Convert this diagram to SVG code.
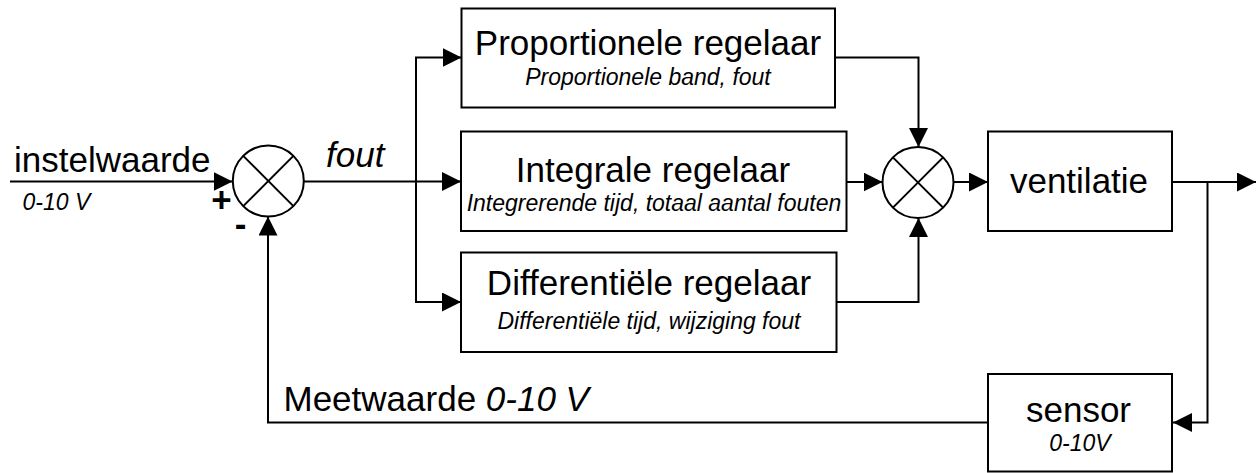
<svg xmlns="http://www.w3.org/2000/svg" width="1259" height="473" viewBox="0 0 1259 473">
<defs>
<marker id="arr" markerUnits="userSpaceOnUse" markerWidth="20" markerHeight="20" refX="19" refY="9.5" orient="auto">
<path d="M0,0 L19,9.5 L0,19 z" fill="#000"/>
</marker>
<style>
.box{fill:#fff;stroke:#000;stroke-width:2}
.ln{fill:none;stroke:#000;stroke-width:2}
.a{marker-end:url(#arr)}
.t{font-family:"Liberation Sans",Arial,sans-serif;font-size:35px;fill:#000}
.s{font-family:"Liberation Sans",Arial,sans-serif;font-size:23px;font-style:italic;fill:#000}
.c{text-anchor:middle}
</style>
</defs>
<g id="connectors">
<line class="ln a" x1="10" y1="181.5" x2="232.5" y2="181.5"/>
<line class="ln" x1="304" y1="181.5" x2="416" y2="181.5"/>
<line class="ln a" x1="416" y1="181.5" x2="461" y2="181.5"/>
<line class="ln" x1="416" y1="57.5" x2="416" y2="302"/>
<line class="ln a" x1="415" y1="57.5" x2="461.5" y2="57.5"/>
<line class="ln a" x1="415" y1="302" x2="461" y2="302"/>
<polyline class="ln a" points="835,57.5 918.5,57.5 918.5,147"/>
<line class="ln a" x1="846.5" y1="182" x2="882.5" y2="182"/>
<polyline class="ln a" points="836.5,302 918.5,302 918.5,218"/>
<line class="ln a" x1="954" y1="182" x2="988" y2="182"/>
<line class="ln a" x1="1172" y1="182" x2="1256" y2="182"/>
<polyline class="ln a" points="1207.5,182 1207.5,422.5 1173,422.5"/>
<polyline class="ln a" points="988,422.5 268,422.5 268,216.5"/>
</g>
<g id="sum1">
<circle class="ln" cx="268.3" cy="181" r="35.5"/>
<line class="ln" x1="243.2" y1="155.9" x2="293.4" y2="206.1"/>
<line class="ln" x1="293.4" y1="155.9" x2="243.2" y2="206.1"/>
</g>
<g id="sum2">
<circle class="ln" cx="918" cy="182.5" r="35.5"/>
<line class="ln" x1="892.9" y1="157.4" x2="943.1" y2="207.6"/>
<line class="ln" x1="943.1" y1="157.4" x2="892.9" y2="207.6"/>
</g>
<g id="proportioneel">
<rect class="box" x="461.5" y="8.5" width="373.5" height="99"/>
<text class="t c" x="648" y="55">Proportionele regelaar</text>
<text class="s c" x="648" y="85">Proportionele band, fout</text>
</g>
<g id="integraal">
<rect class="box" x="461" y="131.5" width="385.5" height="99.5"/>
<text class="t c" x="653" y="181.5">Integrale regelaar</text>
<text class="s c" x="654" y="211">Integrerende tijd, totaal aantal fouten</text>
</g>
<g id="differentieel">
<rect class="box" x="461" y="252.5" width="375.5" height="99.5"/>
<text class="t c" x="649" y="295">Differentiële regelaar</text>
<text class="s c" x="649" y="328.5">Differentiële tijd, wijziging fout</text>
</g>
<g id="ventilatie">
<rect class="box" x="988" y="131.5" width="184" height="99.5"/>
<text class="t c" x="1079" y="192.5">ventilatie</text>
</g>
<g id="sensor">
<rect class="box" x="988" y="374" width="184" height="97.5"/>
<text class="t c" x="1078.5" y="421.5">sensor</text>
<text class="s c" x="1080" y="450.5">0-10V</text>
</g>
<g id="labels">
<text class="t" x="14" y="171.5">instelwaarde</text>
<text class="s" x="22.5" y="210">0-10 V</text>
<text class="t" x="326" y="166.5" font-style="italic">fout</text>
<text class="t" x="283.5" y="410.5">Meetwaarde <tspan font-style="italic">0-10 V</tspan></text>
<text class="t" x="221.5" y="212" text-anchor="middle" font-size="26px" font-weight="bold">+</text>
<text class="t" x="240.5" y="236" text-anchor="middle" font-size="26px" font-weight="bold">-</text>
</g>
</svg>
